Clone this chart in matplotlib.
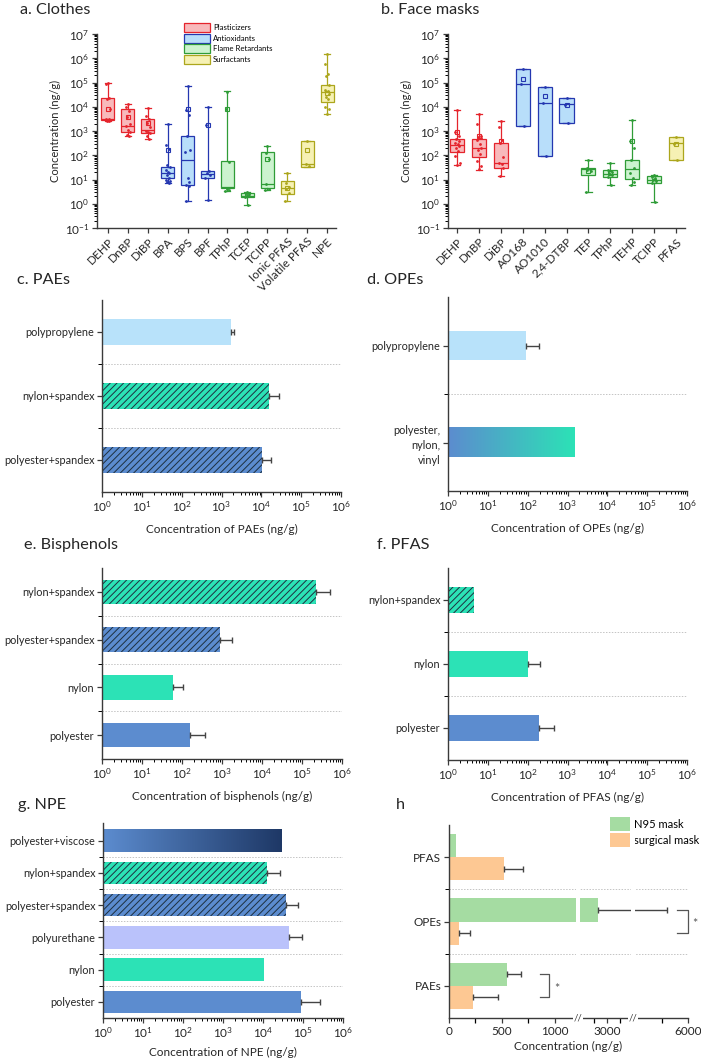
import numpy as np
import matplotlib
matplotlib.use("Agg")
import matplotlib.pyplot as plt
from matplotlib.patches import Patch
from matplotlib.colors import LinearSegmentedColormap
from matplotlib.ticker import LogLocator, FixedLocator, NullFormatter, FuncFormatter
import matplotlib.transforms as mtransforms

plt.rcParams['font.family'] = ['Lato', 'DejaVu Sans']
plt.rcParams['mathtext.fontset'] = 'custom'
plt.rcParams['mathtext.rm'] = 'Lato'
plt.rcParams['mathtext.it'] = 'Lato:italic'
plt.rcParams['mathtext.bf'] = 'Lato:bold'
plt.rcParams['mathtext.default'] = 'regular'
plt.rcParams['hatch.linewidth'] = 0.7

# ---------------- data ----------------
# panel a: clothes
a_cats = ['DEHP', 'DnBP', 'DiBP', 'BPA', 'BPS', 'BPF', 'TPhP', 'TCEP', 'TCIPP',
          'Ionic PFAS', 'Volatile PFAS', 'NPE']
a_groups = ['Plasticizers'] * 3 + ['Antioxidants'] * 3 + ['Flame Retardants'] * 3 + ['Surfactants'] * 3
a_q1 = [2800, 900, 850, 11, 6.2, 11.5, 4.3, 1.85, 4.6, 2.6, 32, 1.6e4]
a_med = [3100, 1650, 1050, 18, 66, 17.5, 4.7, 2.1, 6.6, 4.6, 44, 4.0e4]
a_q3 = [2.3e4, 8.2e3, 3.0e3, 34, 620, 22, 57, 2.8, 130, 8.5, 390, 8.0e4]
a_lo = [2600, 650, 490, 7.5, 1.3, 1.4, 3.4, 0.88, 3.8, 1.3, 32, 4.8e3]
a_hi = [9.7e4, 1.35e4, 8.8e3, 1.95e3, 7.2e4, 1.0e4, 4.3e4, 3.2, 240, 18, 400, 1.5e6]
a_mean = [8.2e3, 3.8e3, 2.2e3, 170, 8.0e3, 1.7e3, 8.3e3, 2.2, 72, 4.6, 160, 3.6e4]
a_pts = [
    [9.5e4, 9e4, 2.2e4, 2e4, 8e3, 3.2e3, 3e3, 2.8e3, 2.7e3, 2.6e3],
    [1.35e4, 1e4, 7e3, 3.8e3, 2e3, 1.6e3, 1.1e3, 900, 700, 650],
    [8.5e3, 4e3, 3e3, 2.2e3, 1.4e3, 1e3, 950, 850, 600, 490],
    [1.9e3, 270, 180, 40, 33, 25, 20, 18, 15, 12, 10, 9, 8, 7.5],
    [7e4, 7.5e3, 4.5e3, 600, 160, 130, 12, 8, 6, 5.5, 1.3],
    [1e4, 1.7e3, 22, 19, 16, 12, 1.4],
    [4.2e4, 8e3, 55, 4.2, 3.7, 3.4],
    [3.2, 2.9, 2.6, 2.3, 2.1, 1.9, 0.88],
    [240, 120, 72, 6.5, 4.2, 3.8],
    [18, 7.5, 5, 4, 2.8, 1.3],
    [390, 45, 35],
    [1.5e6, 5.9e5, 2.2e5, 1.8e5, 7.6e4, 5e4, 4.3e4, 3.5e4, 2.6e4, 2e4, 9.6e3, 8.1e3, 4.8e3],
]

# panel b: face masks
b_cats = ['DEHP', 'DnBP', 'DiBP', 'AO168', 'AO1010', '2,4-DTBP', 'TEP', 'TPhP', 'TEHP', 'TCIPP', 'PFAS']
b_groups = ['Plasticizers'] * 3 + ['Antioxidants'] * 3 + ['Flame Retardants'] * 4 + ['Surfactants']
b_q1 = [135, 85, 31, 1600, 92, 2150, 15.5, 12.5, 10.5, 7.3, 66]
b_med = [270, 200, 50, 8.5e4, 1.4e4, 1.3e4, 27, 17, 27, 9.2, 310]
b_q3 = [450, 480, 320, 3.5e5, 6.7e4, 2.3e4, 31, 24, 62, 14.5, 560]
b_lo = [38, 25, 13.5, 1600, 92, 2150, 3.0, 5.8, 6.0, 1.13, 66]
b_hi = [7.5e3, 4.8e3, 2.6e3, 3.5e5, 6.7e4, 2.3e4, 66, 46, 2.9e3, 15, 560]
b_mean = [950, 600, 380, 1.45e5, 2.7e4, 1.2e4, 22, 18, 370, 8.5, 290]
b_pts = [
    [7.5e3, 950, 650, 480, 380, 320, 280, 230, 190, 150, 90, 50, 40],
    [4.8e3, 2e3, 600, 550, 500, 420, 300, 200, 160, 110, 60, 35, 26],
    [2.5e3, 1.5e3, 420, 330, 85, 50, 42, 30, 14],
    [3.5e5, 8.5e4, 1.6e3],
    [6.7e4, 1.4e4, 92],
    [2.3e4, 1.2e4, 2.15e3],
    [66, 31, 28, 25, 22, 3.0],
    [46, 24, 21, 18, 15, 12.5, 5.8],
    [2.9e3, 370, 200, 62, 30, 18, 11, 8, 6],
    [15, 13, 11, 9.5, 8.5, 7.5, 1.13],
    [560, 300, 66],
]

# panels c-g: materials (listed top to bottom), bar value and upper end of error bar
c_cats = ['polypropylene', 'nylon+spandex', 'polyester+spandex']
c_vals = [1700, 1.6e4, 1.02e4]
c_hi = [2100, 2.7e4, 1.75e4]

d_cats = ['polypropylene', 'polyester,\nnylon,\nvinyl']
d_vals = [93, 1480]
d_hi = [190, None]

e_cats = ['nylon+spandex', 'polyester+spandex', 'nylon', 'polyester']
e_vals = [2.3e5, 870, 59, 160]
e_hi = [5.0e5, 1.8e3, 109, 370]

f_cats = ['nylon+spandex', 'nylon', 'polyester']
f_vals = [4.5, 100, 195]
f_hi = [None, 205, 465]

g_cats = ['polyester+viscose', 'nylon+spandex', 'polyester+spandex', 'polyurethane', 'nylon', 'polyester']
g_vals = [2.9e4, 1.29e4, 3.7e4, 4.5e4, 1.03e4, 8.7e4]
g_hi = [None, 2.6e4, 7.7e4, 9.3e4, None, 2.6e5]

# panel h (top to bottom)
h_cats = ['PFAS', 'OPEs', 'PAEs']
h_n95 = [63, 2650, 551]
h_n95_hi = [None, 5190, 677]
h_surg = [519, 92, 228]
h_surg_hi = [703, 196, 459]
h_ticks = [0, 500, 1000, 3000, 6000]

# ---------------- styles ----------------
group_edge = {'Plasticizers': '#e5242c', 'Antioxidants': '#2437b0',
              'Flame Retardants': '#2f9c37', 'Surfactants': '#aca61c'}
group_fill = {'Plasticizers': '#f8b9bb', 'Antioxidants': '#b8defa',
              'Flame Retardants': '#ccf3cf', 'Surfactants': '#f6f1b4'}
BLUE = '#5c8ccf'
TEAL = '#2ce2b6'
mat_style = {
    'polypropylene': dict(color='#b8e2fa'),
    'nylon+spandex': dict(color=TEAL, hatch='/////'),
    'polyester+spandex': dict(color=BLUE, hatch='/////'),
    'nylon': dict(color=TEAL),
    'polyester': dict(color=BLUE),
    'polyurethane': dict(color='#bac2fb'),
    'polyester,\nnylon,\nvinyl': dict(grad=(BLUE, TEAL)),
    'polyester+viscose': dict(grad=(BLUE, '#1e3866')),
}
AX = '#3a3a3a'
TXT = '#262626'
ERR = '#444444'
SEP = '#c4c4c4'
FS = 8.5        # tick labels / axis titles
FS_BAR = 7.8    # material labels in bar panels
FS_CAT = 8.5    # rotated category labels
FS_TITLE = 11.7

W, H = 701, 1062
fig = plt.figure(figsize=(W / 100, H / 100), dpi=100)


def add_ax(l, t, r, b):
    return fig.add_axes([l / W, 1 - b / H, (r - l) / W, (b - t) / H])


def style_axes(ax):
    for s in ['top', 'right']:
        ax.spines[s].set_visible(False)
    for s in ['left', 'bottom']:
        ax.spines[s].set_color(AX)
        ax.spines[s].set_linewidth(1.0)
    ax.tick_params(colors=AX, labelcolor=TXT, labelsize=FS, width=0.9)
    ax.tick_params(which='major', length=3.5, pad=2)
    ax.tick_params(which='minor', length=2, width=0.7)


def pow_fmt(v, pos):
    e = int(round(np.log10(v)))
    return r'$10^{%d}$' % e


jit = [0.0, -0.08, 0.07, -0.04, 0.1, -0.11, 0.03, 0.09, -0.06, 0.05, -0.1, 0.11, -0.02, 0.06]


def box_panel(ax, cats, groups, q1, med, q3, lo, hi, mean, pts, xlim):
    n = len(cats)
    pos = np.arange(1, n + 1)
    stats = [dict(q1=q1[i], med=med[i], q3=q3[i], whislo=lo[i], whishi=hi[i], label=cats[i])
             for i in range(n)]
    bp = ax.bxp(stats, positions=pos, widths=0.65, patch_artist=True, showfliers=False,
                capwidths=0.3, manage_ticks=False)
    for i in range(n):
        ec = group_edge[groups[i]]
        fc = group_fill[groups[i]]
        bp['boxes'][i].set_facecolor(fc)
        bp['boxes'][i].set_edgecolor(ec)
        bp['boxes'][i].set_linewidth(0.9)
        bp['medians'][i].set_color(ec)
        bp['medians'][i].set_linewidth(0.9)
        for k in (2 * i, 2 * i + 1):
            bp['whiskers'][k].set_color(ec)
            bp['whiskers'][k].set_linewidth(0.9)
            bp['caps'][k].set_color(ec)
            bp['caps'][k].set_linewidth(0.9)
        xs = [pos[i] + jit[k % len(jit)] for k in range(len(pts[i]))]
        ax.scatter(xs, pts[i], s=4, color=ec, zorder=4, linewidths=0)
        ax.plot([pos[i]], [mean[i]], marker='s', ms=3.2, mfc='none', mec=ec, mew=0.8, zorder=5)
    ax.set_yscale('log')
    ax.set_ylim(0.1, 1e7)
    ax.set_xlim(*xlim)
    ax.yaxis.set_major_locator(LogLocator(base=10, numticks=20))
    ax.yaxis.set_minor_locator(LogLocator(base=10, subs=np.arange(2, 10), numticks=20))
    ax.yaxis.set_major_formatter(FuncFormatter(pow_fmt))
    ax.yaxis.set_minor_formatter(NullFormatter())
    ax.set_xticks(pos)
    style_axes(ax)
    ax.set_xticklabels(cats, rotation=45, ha='right', rotation_mode='anchor', fontsize=FS_CAT)
    ax.set_ylabel('Concentration (ng/g)', fontsize=8, color=TXT, labelpad=3)


def bar_panel(ax, cats, vals, his, height, xlabel, ylim, labelpad=7):
    n = len(cats)
    ys = [n - 1 - i for i in range(n)]
    ax.set_xscale('log')
    ax.set_xlim(1, 1e6)
    ax.set_ylim(*ylim)
    grads = []
    for i in range(n):
        st = mat_style[cats[i]]
        if 'grad' in st:
            grads.append((ys[i], vals[i], st['grad']))
        else:
            ax.barh(ys[i], vals[i] - 1, left=1, height=height, color=st['color'],
                    hatch=st.get('hatch'), edgecolor='#1d2f3f' if st.get('hatch') else st['color'],
                    linewidth=0, zorder=2)
        if his[i] is not None:
            ax.errorbar(vals[i], ys[i], xerr=[[0], [his[i] - vals[i]]], fmt='none', ecolor=ERR,
                        elinewidth=1, capsize=2.5, capthick=1, zorder=3)
    for k in range(n - 1):
        ax.axhline(k + 0.5, color=SEP, lw=0.7, ls=(0, (1.5, 1.5)), zorder=1)
    ax.set_yticks(ys)
    ax.set_yticks([k + 0.5 for k in range(n - 1)], minor=True)
    ax.xaxis.set_major_locator(LogLocator(base=10, numticks=20))
    ax.xaxis.set_minor_locator(LogLocator(base=10, subs=np.arange(2, 10), numticks=20))
    ax.xaxis.set_major_formatter(FuncFormatter(pow_fmt))
    ax.xaxis.set_minor_formatter(NullFormatter())
    style_axes(ax)
    ax.set_yticklabels(cats, fontsize=FS_BAR, linespacing=1.45)
    ax.tick_params(axis='y', which='minor', length=3)
    ax.set_xlabel(xlabel, fontsize=FS, color=TXT, labelpad=labelpad)
    # gradient bars in axes coordinates so the gradient is linear on screen
    to_axes = ax.transData + ax.transAxes.inverted()
    for (y, v, (c0, c1)) in grads:
        x0, y0 = to_axes.transform((1, y - height / 2))
        x1, y1 = to_axes.transform((v, y + height / 2))
        cmap = LinearSegmentedColormap.from_list('g', [c0, c1])
        ax.imshow(np.linspace(0, 1, 256)[None, :], extent=(x0, x1, y0, y1), cmap=cmap,
                  aspect='auto', transform=ax.transAxes, zorder=2, interpolation='bilinear')
    ax.set_xlim(1, 1e6)
    ax.set_ylim(*ylim)


# ---------------- panel a ----------------
ax_a = add_ax(97, 34, 336, 228)
box_panel(ax_a, a_cats, a_groups, a_q1, a_med, a_q3, a_lo, a_hi, a_mean, a_pts, (0.45, 12.45))
leg_groups = ['Plasticizers', 'Antioxidants', 'Flame Retardants', 'Surfactants']
handles = [Patch(facecolor=group_fill[g], edgecolor=group_edge[g], linewidth=0.9, label=g) for g in leg_groups]
ax_a.legend(handles=handles, loc='upper left', bbox_to_anchor=(184 / W, 1 - 23 / H),
            bbox_transform=fig.transFigure, frameon=False, fontsize=5.6, handlelength=3.3,
            handleheight=1.4, labelspacing=0.2, handletextpad=0.4, borderpad=0, borderaxespad=0)

# ---------------- panel b ----------------
ax_b = add_ax(448, 34, 685, 228)
box_panel(ax_b, b_cats, b_groups, b_q1, b_med, b_q3, b_lo, b_hi, b_mean, b_pts, (0.58, 11.42))

# ---------------- panels c-g ----------------
ax_c = add_ax(102, 300, 341, 492)
bar_panel(ax_c, c_cats, c_vals, c_hi, 0.42, 'Concentration of PAEs (ng/g)', (-0.5, 2.5))
ax_d = add_ax(448, 297, 687, 491)
bar_panel(ax_d, d_cats, d_vals, d_hi, 0.30, 'Concentration of OPEs (ng/g)', (-0.5, 1.5))
ax_e = add_ax(102, 568, 342, 759)
bar_panel(ax_e, e_cats, e_vals, e_hi, 0.51, 'Concentration of bisphenols (ng/g)', (-0.5, 3.5))
ax_f = add_ax(448, 568, 687, 760)
bar_panel(ax_f, f_cats, f_vals, f_hi, 0.41, 'Concentration of PFAS (ng/g)', (-0.5, 2.5))
ax_g = add_ax(103, 823, 343, 1018)
bar_panel(ax_g, g_cats, g_vals, g_hi, 0.70, 'Concentration of NPE (ng/g)', (-0.5, 5.55), labelpad=5)

# ---------------- panel h (broken axis) ----------------
ax_h = add_ax(449, 825, 688, 1018)
brk_v = [0, 1200, 2000, 3900, 4000, 6000]
brk_p = [0, 379, 392, 544, 557, 714]


def h_fwd(v):
    return np.interp(v, brk_v, brk_p)


def h_inv(p):
    return np.interp(p, brk_p, brk_v)


ax_h.set_xscale('function', functions=(h_fwd, h_inv))
n = len(h_cats)
hy = [n - 1 - i for i in range(n)]
bh = 0.36
off = 0.18
for i in range(n):
    ax_h.barh(hy[i] + off, h_n95[i], height=bh, color='#a5dca2', linewidth=0, zorder=2,
              label='N95 mask' if i == 0 else None)
    ax_h.barh(hy[i] - off, h_surg[i], height=bh, color='#fdc893', linewidth=0, zorder=2,
              label='surgical mask' if i == 0 else None)
    if h_n95_hi[i] is not None:
        ax_h.errorbar(h_n95[i], hy[i] + off, xerr=[[0], [h_n95_hi[i] - h_n95[i]]], fmt='none',
                      ecolor=ERR, elinewidth=1, capsize=2.5, capthick=1, zorder=3)
    if h_surg_hi[i] is not None:
        ax_h.errorbar(h_surg[i], hy[i] - off, xerr=[[0], [h_surg_hi[i] - h_surg[i]]], fmt='none',
                      ecolor=ERR, elinewidth=1, capsize=2.5, capthick=1, zorder=3)
for k in range(n - 1):
    ax_h.axhline(k + 0.5, color=SEP, lw=0.7, ls=(0, (1.5, 1.5)), zorder=1)
# gaps of the broken axis
ax_h.axvspan(1200, 2000, color='white', zorder=6, lw=0)
ax_h.axvspan(3900, 4000, color='white', zorder=6, lw=0)
ax_h.set_xlim(0, 6000)
ax_h.set_ylim(-0.5, 2.5)
ax_h.set_yticks(hy)
ax_h.set_yticklabels(h_cats)
ax_h.set_yticks([k + 0.5 for k in range(n - 1)], minor=True)
ax_h.xaxis.set_major_locator(FixedLocator(h_ticks))
ax_h.xaxis.set_minor_locator(FixedLocator([250, 750, 2500, 3500, 5000]))
ax_h.xaxis.set_major_formatter(FuncFormatter(lambda v, p: '%d' % v))
ax_h.xaxis.set_minor_formatter(NullFormatter())
style_axes(ax_h)
ax_h.tick_params(axis='x', which='minor', length=3.5, width=0.9)
ax_h.tick_params(axis='y', which='minor', length=3)
ax_h.set_xlabel('Concentration (ng/g)', fontsize=FS, color=TXT, labelpad=3)
blend = mtransforms.blended_transform_factory(ax_h.transData, ax_h.transAxes)
for bv in (1600, 3950):
    ax_h.text(bv, 0, '//', transform=blend, ha='center', va='center', fontsize=7, color=AX,
              zorder=10, clip_on=False,
              bbox=dict(boxstyle='square,pad=0.05', fc='white', ec='none'))
# significance brackets
for (cy, xl, xr) in [(1, 5600, 6000), (0, 860, 950)]:
    ax_h.plot([xl, xr, xr, xl], [cy + off, cy + off, cy - off, cy - off], color='#555555',
              lw=0.9, clip_on=False, zorder=7)
    ax_h.annotate('*', xy=(xr, cy), xytext=(5, -2), textcoords='offset points', fontsize=9,
                  color='#555555', ha='center', va='center', annotation_clip=False)
ax_h.legend(loc='upper right', bbox_to_anchor=(699 / W, 1 - 817 / H), bbox_transform=fig.transFigure,
            frameon=False, fontsize=8, handlelength=1.8, handleheight=1.6, labelspacing=0.15,
            handletextpad=0.35, borderpad=0, borderaxespad=0)

# ---------------- titles ----------------
for (x, y, t) in [(20, 10, 'a. Clothes'), (381, 10, 'b. Face masks'), (17, 280, 'c. PAEs'),
                  (367, 280, 'd. OPEs'), (24, 545, 'e. Bisphenols'), (377, 545, 'f. PFAS'),
                  (18, 805, 'g. NPE'), (396, 805, 'h')]:
    fig.text(x / W, 1 - y / H, t, fontsize=FS_TITLE, color=TXT, ha='left', va='center')

fig.savefig('out.png', dpi=100)
